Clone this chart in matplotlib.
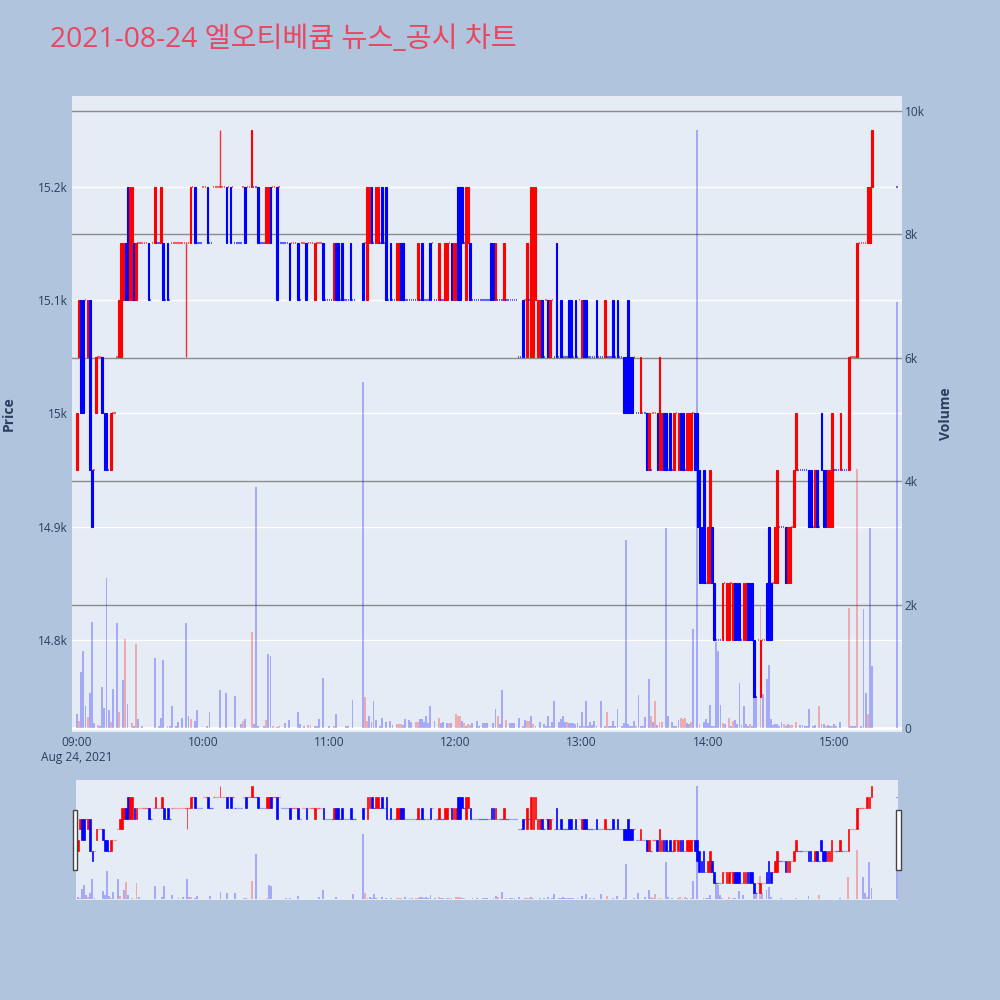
import matplotlib
matplotlib.use("Agg")
import matplotlib.pyplot as plt
from matplotlib.patches import Rectangle

# 1. data (minute 0 = 09:00)
candle_min = [0, 1, 2, 3, 5, 6, 7, 9, 12, 13,
              14, 16, 20, 21, 22, 23, 24, 25, 26, 27,
              28, 34, 37, 40, 41, 43, 54, 56, 62, 71,
              73, 80, 83, 86, 90, 91, 92, 95, 101, 105,
              109, 113, 117, 122, 123, 124, 126, 130, 136, 138,
              139, 140, 142, 143, 145, 147, 149, 152, 153, 154,
              155, 162, 164, 168, 172, 175, 176, 178, 179, 180,
              181, 182, 183, 185, 186, 187, 197, 198, 199, 203,
              212, 214, 216, 217, 218, 219, 220, 221, 224, 225,
              228, 230, 234, 235, 237, 240, 241, 242, 247, 251,
              255, 257, 260, 261, 262, 263, 264, 268, 271, 272,
              276, 277, 278, 279, 280, 282, 284, 286, 287, 288,
              290, 291, 292, 294, 295, 296, 297, 298, 300, 301,
              302, 303, 307, 309, 310, 312, 313, 314, 315, 317,
              318, 319, 320, 321, 322, 325, 328, 329, 330, 332,
              333, 337, 338, 339, 341, 342, 348, 349, 351, 352,
              354, 355, 356, 357, 358, 359, 363, 367, 371, 376,
              377, 378]
candle_open = [14950, 15050, 15100, 15100, 15050, 15100, 14950, 15000, 15050, 15000,
               15000, 14950, 15050, 15050, 15100, 15150, 15200, 15100, 15100, 15150,
               15100, 15150, 15150, 15150, 15150, 15150, 15150, 15200, 15200, 15200,
               15200, 15200, 15200, 15200, 15150, 15150, 15200, 15200, 15150, 15150,
               15150, 15100, 15150, 15100, 15150, 15150, 15150, 15150, 15150, 15100,
               15150, 15200, 15150, 15150, 15200, 15200, 15150, 15100, 15100, 15150,
               15150, 15100, 15150, 15150, 15100, 15100, 15100, 15150, 15100, 15100,
               15200, 15200, 15200, 15100, 15150, 15150, 15150, 15150, 15100, 15100,
               15100, 15050, 15050, 15050, 15100, 15050, 15050, 15100, 15100, 15050,
               15150, 15100, 15100, 15100, 15100, 15050, 15100, 15100, 15100, 15050,
               15100, 15100, 15050, 15050, 15100, 15050, 15050, 15000, 15000, 14950,
               15000, 14950, 14950, 15000, 15000, 15000, 14950, 14950, 15000, 15000,
               14950, 14950, 14950, 15000, 15000, 14950, 14900, 14950, 14850, 14850,
               14900, 14850, 14800, 14800, 14800, 14800, 14850, 14850, 14850, 14800,
               14800, 14850, 14850, 14850, 14800, 14750, 14850, 14900, 14850, 14850,
               14850, 14900, 14850, 14850, 14900, 14950, 14950, 14950, 14900, 14950,
               15000, 14950, 14950, 14900, 14900, 14900, 14950, 14950, 15050, 15150,
               15150, 15200]
candle_close = [15000, 15100, 15000, 15000, 15100, 14950, 14900, 15050, 15000, 14950,
                14950, 15000, 15100, 15150, 15150, 15100, 15100, 15200, 15200, 15100,
                15150, 15100, 15200, 15200, 15100, 15100, 15200, 15150, 15150, 15150,
                15150, 15150, 15250, 15150, 15200, 15200, 15150, 15100, 15100, 15100,
                15100, 15150, 15100, 15150, 15100, 15100, 15100, 15100, 15100, 15200,
                15200, 15150, 15200, 15200, 15150, 15100, 15100, 15150, 15150, 15100,
                15100, 15150, 15100, 15100, 15150, 15150, 15150, 15100, 15150, 15150,
                15100, 15100, 15150, 15200, 15200, 15100, 15100, 15100, 15150, 15150,
                15050, 15150, 15200, 15200, 15200, 15100, 15100, 15050, 15050, 15100,
                15050, 15050, 15050, 15050, 15050, 15100, 15050, 15050, 15050, 15100,
                15050, 15050, 15000, 15000, 15000, 15000, 15000, 15050, 14950, 15000,
                14950, 15050, 15000, 14950, 14950, 14950, 15000, 15000, 14950, 14950,
                15000, 15000, 15000, 14950, 14900, 14850, 14850, 14850, 14900, 14950,
                14850, 14800, 14850, 14850, 14850, 14850, 14800, 14800, 14800, 14850,
                14850, 14800, 14800, 14800, 14750, 14800, 14800, 14800, 14800, 14900,
                14950, 14850, 14900, 14900, 14950, 15000, 14900, 14900, 14950, 14900,
                14950, 14900, 14900, 14950, 14950, 15000, 15000, 15050, 15150, 15200,
                15200, 15250]

# minutes traded flat (open == close)
flat_from = [4, 8, 10, 15, 17, 19, 29, 35, 36, 38, 42, 44, 45, 55, 57, 60, 63, 65, 72, 74,
             75, 79, 81, 84, 87, 93, 96, 97, 102, 106, 107, 110, 114, 118, 125, 127, 131, 137, 141, 144,
             146, 148, 150, 156, 163, 165, 169, 170, 173, 177, 184, 188, 200, 204, 210, 213, 215, 222, 223, 226,
             227, 229, 231, 236, 238, 239, 243, 248, 252, 256, 258, 265, 266, 269, 273, 274, 281, 283, 285, 289,
             293, 299, 304, 308, 311, 316, 323, 324, 326, 331, 334, 340, 343, 350, 353, 360, 364, 368, 372, 390]
flat_to = [4, 8, 11, 15, 18, 19, 33, 35, 36, 39, 42, 44, 53, 55, 59, 61, 64, 70, 72, 74,
           78, 79, 82, 85, 89, 94, 96, 100, 104, 106, 108, 112, 116, 121, 125, 129, 132, 137, 141, 144,
           146, 148, 151, 161, 163, 167, 169, 171, 174, 177, 184, 196, 202, 209, 211, 213, 215, 222, 223, 226,
           227, 229, 233, 236, 238, 239, 246, 250, 254, 256, 259, 265, 267, 270, 273, 275, 281, 283, 285, 289,
           293, 299, 306, 308, 311, 316, 323, 324, 327, 331, 336, 340, 347, 350, 353, 362, 366, 370, 375, 390]
flat_price = [15100, 14950, 15050, 14950, 15000, 15050, 15150, 15100, 15150, 15150,
              15100, 15100, 15150, 15200, 15150, 15200, 15150, 15200, 15200, 15200,
              15150, 15200, 15200, 15200, 15150, 15200, 15200, 15150, 15150, 15100,
              15150, 15150, 15150, 15100, 15100, 15100, 15100, 15150, 15150, 15150,
              15150, 15100, 15100, 15100, 15100, 15100, 15150, 15100, 15100, 15150,
              15150, 15100, 15100, 15100, 15050, 15100, 15100, 15050, 15100, 15100,
              15050, 15050, 15050, 15050, 15050, 15100, 15050, 15050, 15050, 15050,
              15050, 15050, 15000, 15000, 14950, 15000, 14950, 14950, 15000, 14950,
              15000, 14850, 14800, 14850, 14850, 14800, 14750, 14800, 14800, 14850,
              14900, 14900, 14950, 14900, 14900, 14950, 14950, 15050, 15150, 15200]

wick_min = [52, 68]
wick_low = [15050, 15200]
wick_high = [15150, 15250]

vol_min = [0, 1, 2, 3, 4, 5, 6, 7, 8, 10, 11, 12, 13, 14, 15, 16, 17, 19, 20, 22,
           23, 24, 26, 27, 28, 29, 31, 37, 39, 40, 41, 43, 44, 45, 47, 48, 50, 52, 53, 54,
           56, 57, 62, 63, 68, 71, 75, 78, 79, 80, 83, 84, 85, 86, 89, 90, 91, 92, 93, 95,
           96, 99, 101, 105, 106, 108, 110, 111, 113, 114, 115, 117, 120, 122, 123, 128, 129, 131, 136, 137,
           138, 139, 140, 141, 142, 144, 145, 147, 149, 150, 152, 153, 154, 155, 156, 158, 159, 161, 162, 163,
           164, 165, 166, 167, 168, 170, 172, 173, 174, 176, 177, 178, 180, 181, 182, 183, 184, 185, 186, 187,
           188, 190, 191, 193, 194, 195, 198, 199, 200, 201, 202, 204, 206, 207, 208, 210, 212, 213, 214, 215,
           216, 217, 218, 220, 222, 223, 224, 225, 226, 227, 229, 230, 231, 232, 233, 234, 235, 236, 237, 238,
           239, 240, 241, 242, 243, 244, 245, 246, 247, 249, 251, 252, 253, 254, 255, 256, 257, 259, 260, 261,
           262, 263, 264, 265, 266, 267, 268, 269, 270, 272, 273, 274, 275, 276, 277, 278, 280, 281, 283, 284,
           285, 286, 287, 288, 289, 290, 291, 292, 293, 295, 296, 298, 299, 300, 301, 302, 303, 304, 305, 306,
           307, 308, 310, 311, 312, 313, 314, 315, 316, 317, 318, 319, 320, 321, 322, 323, 325, 326, 328, 329,
           330, 331, 332, 333, 334, 335, 336, 337, 338, 339, 340, 342, 344, 345, 346, 347, 348, 350, 351, 353,
           354, 355, 356, 357, 358, 359, 360, 361, 363, 367, 368, 369, 370, 371, 373, 374, 375, 376, 377, 378,
           390]
vol_val = [230, 120, 900, 1250, 360, 180, 570, 1720, 80, 50, 40, 670, 330, 2430, 290, 90, 640, 1700, 260, 770,
           1440, 390, 80, 40, 1360, 150, 30, 1130, 40, 170, 1100, 30, 40, 350, 40, 90, 170, 1700, 200, 150,
           120, 290, 40, 260, 620, 560, 520, 60, 120, 140, 1550, 60, 3900, 30, 30, 130, 1200, 1160, 40, 20,
           30, 80, 130, 260, 60, 30, 50, 50, 30, 40, 150, 810, 30, 40, 220, 30, 40, 460, 5600, 500,
           110, 200, 90, 430, 130, 30, 160, 90, 110, 50, 70, 70, 70, 50, 150, 130, 90, 90, 100, 150,
           150, 90, 190, 80, 350, 110, 160, 80, 100, 80, 80, 80, 230, 190, 190, 110, 80, 40, 60, 50,
           80, 120, 40, 80, 80, 80, 80, 300, 190, 60, 620, 130, 80, 80, 80, 170, 40, 130, 110, 120,
           200, 70, 30, 100, 70, 40, 200, 40, 100, 430, 100, 140, 200, 90, 100, 80, 80, 80, 60, 80,
           30, 260, 40, 430, 40, 90, 50, 110, 30, 440, 30, 260, 30, 40, 110, 30, 300, 40, 80, 3050,
           60, 40, 40, 110, 40, 530, 40, 30, 180, 790, 200, 100, 430, 50, 100, 100, 3240, 200, 100, 30,
           30, 130, 160, 140, 160, 80, 60, 90, 1600, 9700, 60, 100, 140, 80, 370, 40, 40, 1400, 1250, 370,
           80, 60, 170, 30, 110, 130, 60, 730, 50, 350, 60, 40, 60, 40, 500, 500, 1960, 550, 800, 1020,
           150, 50, 60, 60, 40, 90, 60, 40, 60, 50, 50, 90, 50, 50, 40, 30, 300, 30, 50, 350,
           60, 60, 40, 50, 40, 40, 60, 30, 90, 1950, 40, 40, 40, 4200, 40, 1930, 570, 220, 3240, 1000,
           6900]
vol_red_min = [1, 5, 10, 16, 20, 23, 26, 28, 43, 54, 79, 83, 90, 93, 96, 110, 111, 122, 137, 138,
               152, 153, 154, 161, 162, 172, 177, 180, 181, 182, 184, 186, 187, 200, 204, 214, 215, 217, 225, 233,
               241, 252, 266, 273, 275, 277, 278, 287, 288, 289, 292, 296, 307, 310, 312, 320, 325, 336, 339, 340,
               342, 353, 356, 359, 367, 371, 376]

price_ticks = [14800, 14900, 15000, 15100, 15200]
price_labels = ["14.8k", "14.9k", "15k", "15.1k", "15.2k"]
vol_ticks = [0, 2000, 4000, 6000, 8000, 10000]
vol_labels = ["0", "2k", "4k", "6k", "8k", "10k"]
time_ticks = [0, 60, 120, 180, 240, 300, 360]
time_labels = ["09:00\nAug 24, 2021", "10:00", "11:00", "12:00", "13:00", "14:00", "15:00"]

# 2. merge bars, direction like plotly
bars = {}
for m, o, c in zip(candle_min, candle_open, candle_close):
    bars[m] = (o, c)
for a, b, p in zip(flat_from, flat_to, flat_price):
    for m in range(a, b + 1):
        bars.setdefault(m, (p, p))
minutes = sorted(bars)
dirs = {}
prev_c = None
prev_d = 1
for m in minutes:
    o, c = bars[m]
    if c > o:
        d = 1
    elif c < o:
        d = -1
    elif prev_c is not None and c > prev_c:
        d = 1
    elif prev_c is not None and c < prev_c:
        d = -1
    else:
        d = prev_d
    dirs[m] = d
    prev_c = c
    prev_d = d

RED = "#FF0000"
BLUE = "#0000FF"
TXT = "#2a3f5f"
PLOT_BG = "#E5ECF6"
P_LIM = (14719, 15280)
V_LIM = (-65, 10243)

plt.rcParams["font.family"] = ["Open Sans", "DejaVu Sans"]


def draw(ax, axv, scale=1.0):
    body_m = [m for m in minutes if bars[m][0] != bars[m][1]]
    flat_m = [m for m in minutes if bars[m][0] == bars[m][1]]
    ax.bar(body_m,
           [bars[m][1] - bars[m][0] for m in body_m],
           bottom=[bars[m][0] for m in body_m],
           width=0.8,
           color=[RED if dirs[m] > 0 else BLUE for m in body_m],
           edgecolor=[RED if dirs[m] > 0 else BLUE for m in body_m],
           linewidth=0.8 * scale, zorder=3)
    for m in flat_m:
        ax.hlines(bars[m][0], m - 0.35, m + 0.35,
                  color=RED if dirs[m] > 0 else BLUE,
                  lw=1.5 * scale, alpha=0.6, zorder=3)
    ax.vlines(wick_min, wick_low, wick_high, color=RED, lw=1.0 * scale,
              alpha=0.8, zorder=3)
    vcol = [(1.0, 0.0, 0.0, 0.28) if m in vol_red_min else (0.0, 0.0, 1.0, 0.28)
            for m in vol_min]
    axv.bar(vol_min, vol_val, width=0.9, color=vcol, linewidth=0, zorder=4)
    ax.set_ylim(*P_LIM)
    axv.set_ylim(*V_LIM)
    for a in (ax, axv):
        for s in a.spines.values():
            s.set_visible(False)


def vol_to_price(v):
    return P_LIM[0] + (v - V_LIM[0]) / (V_LIM[1] - V_LIM[0]) * (P_LIM[1] - P_LIM[0])


fig = plt.figure(figsize=(10, 10), dpi=100, facecolor="#B0C4DE")

# main chart
ax = fig.add_axes([0.072, 0.268, 0.830, 0.636])
ax.set_facecolor(PLOT_BG)
axv = ax.twinx()
draw(ax, axv)
ax.set_xlim(-2.4, 392.3)

for p in price_ticks:
    ax.axhline(p, color="white", lw=1.0, zorder=1)
for v in vol_ticks[1:]:
    ax.axhline(vol_to_price(v), color="#8c8c8c", lw=1.0, zorder=1.5)
ax.axhline(vol_to_price(0), color="white", lw=2.0, zorder=1.5)

ax.set_yticks(price_ticks)
ax.set_yticklabels(price_labels)
axv.set_yticks(vol_ticks)
axv.set_yticklabels(vol_labels)
ax.set_xticks(time_ticks)
ax.set_xticklabels(time_labels)
ax.tick_params(axis="y", length=0, pad=3, labelsize=8.6, labelcolor=TXT)
ax.tick_params(axis="x", length=0, pad=3, labelsize=8.6, labelcolor=TXT)
axv.tick_params(axis="y", length=0, pad=2, labelsize=8.6, labelcolor=TXT)

fig.text(0.009, 0.586, "Price", rotation=90, ha="center", va="center",
         fontsize=10, fontweight="bold", color=TXT)
fig.text(0.946, 0.586, "Volume", rotation=90, ha="center", va="center",
         fontsize=10, fontweight="bold", color=TXT)

# range slider
axm = fig.add_axes([0.076, 0.100, 0.822, 0.120])
axm.set_facecolor(PLOT_BG)
axmv = axm.twinx()
draw(axm, axmv, scale=0.6)
axm.set_xlim(-0.8, 390.6)
for a in (axm, axmv):
    a.set_xticks([])
    a.set_yticks([])

for hx in (0.0728, 0.8960):
    fig.add_artist(Rectangle((hx, 0.130), 0.0045, 0.060, transform=fig.transFigure,
                             facecolor="white", edgecolor="#444444", lw=1.0))

fig.text(0.050, 0.960, "2021-08-24 엘오티베큠 뉴스_공시 차트", ha="left", va="center",
         fontsize=20.3, color="#E9475F",
         family=["Open Sans", "Noto Sans CJK KR", "DejaVu Sans"])

fig.savefig("out.png", dpi=100, facecolor=fig.get_facecolor())
